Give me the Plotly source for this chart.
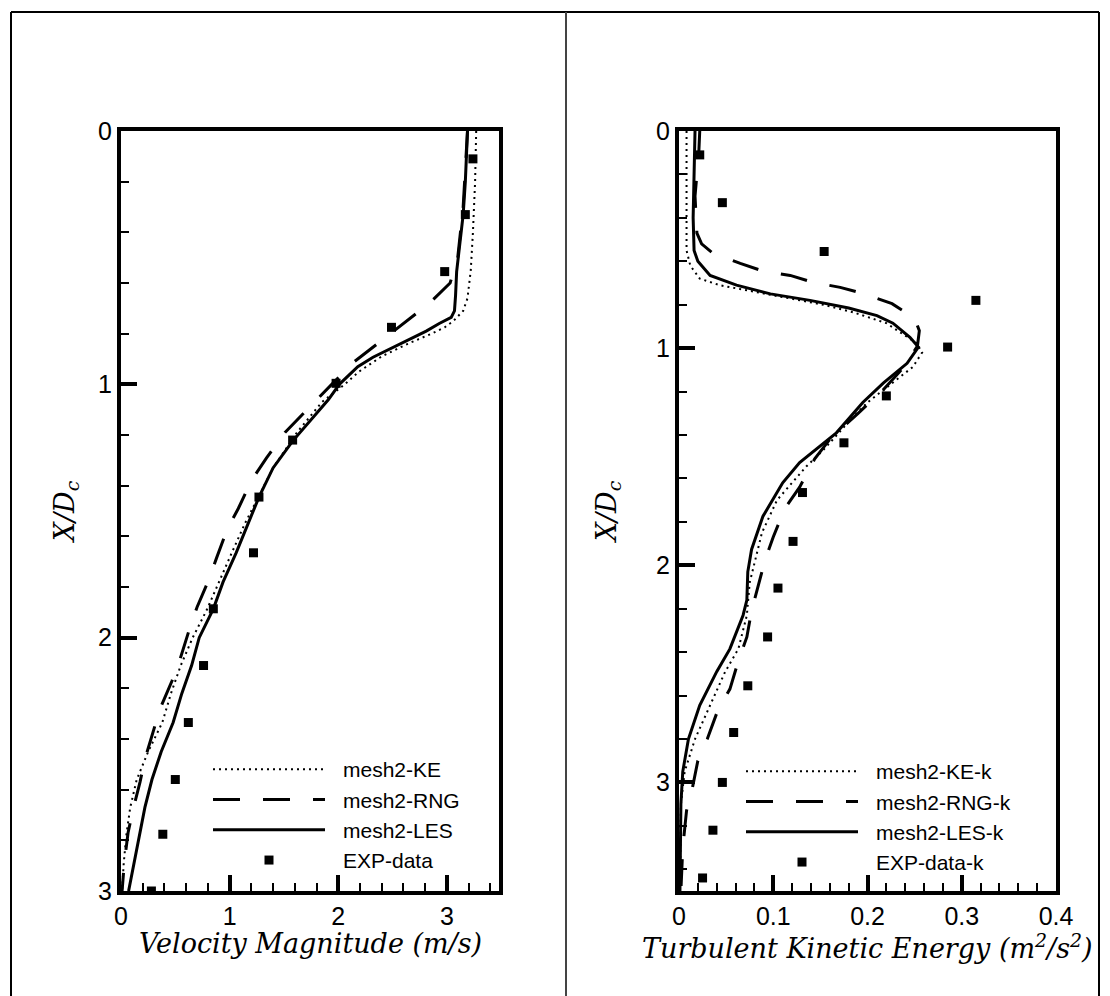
import plotly.graph_objects as go

W, H = 1110, 996

# ---------------- Left panel: velocity magnitude ----------------
les_v_y = [0, 0.1, 0.2, 0.33, 0.45, 0.555, 0.65, 0.71, 0.736, 0.76, 0.79, 0.815, 0.84, 0.866, 0.893,
           0.93, 0.97, 1.0, 1.06, 1.12, 1.224, 1.33, 1.445, 1.55, 1.665, 1.78, 1.886, 2.0, 2.11, 2.22,
           2.335, 2.45, 2.56, 2.67, 2.776, 2.89, 3.0]
les_v = [3.19, 3.18, 3.17, 3.15, 3.12, 3.09, 3.08, 3.07, 3.04, 2.93, 2.81, 2.69, 2.57, 2.45, 2.32,
         2.18, 2.08, 2.01, 1.91, 1.79, 1.58, 1.40, 1.27, 1.17, 1.06, 0.94, 0.85, 0.72, 0.65, 0.56,
         0.48, 0.37, 0.285, 0.22, 0.17, 0.12, 0.07]

ke_v_y = [0, 0.2, 0.4, 0.55, 0.66, 0.71, 0.75, 0.775, 0.8, 0.84, 0.89, 0.95, 1.0, 1.07, 1.19, 1.33,
          1.457, 1.55, 1.665, 1.78, 1.89, 2.0, 2.11, 2.22, 2.335, 2.45, 2.56, 2.67, 2.776, 2.89, 3.0]
ke_v = [3.27, 3.26, 3.24, 3.22, 3.19, 3.15, 3.06, 2.98, 2.86, 2.64, 2.40, 2.19, 2.06, 1.85, 1.62, 1.40,
        1.25, 1.14, 1.02, 0.90, 0.79, 0.66, 0.55, 0.46, 0.38, 0.25, 0.145, 0.085, 0.05, 0.025, 0.01]

rng_v_y = [0, 0.3, 0.5, 0.6, 0.68, 0.76, 0.83, 0.91, 1.0, 1.09, 1.19, 1.29, 1.38, 1.49, 1.57, 1.685,
           1.78, 1.88, 1.98, 2.09, 2.17, 2.28, 2.37, 2.48, 2.57, 2.68, 2.77, 2.89, 3.0]
rng_v = [3.19, 3.15, 3.10, 3.03, 2.84, 2.60, 2.38, 2.15, 1.94, 1.74, 1.51, 1.34, 1.20, 1.08, 0.98, 0.88,
         0.80, 0.70, 0.62, 0.54, 0.47, 0.36, 0.30, 0.22, 0.175, 0.11, 0.065, 0.03, 0.01]

exp_v_y = [0.11, 0.33, 0.555, 0.775, 0.996, 1.22, 1.445, 1.665, 1.886, 2.11, 2.335, 2.56, 2.776, 3.0]
exp_v = [3.24, 3.17, 2.98, 2.49, 1.98, 1.58, 1.27, 1.22, 0.85, 0.76, 0.62, 0.50, 0.385, 0.28]

# ---------------- Right panel: turbulent kinetic energy ----------------
les_k_y = [0, 0.2, 0.4, 0.55, 0.6, 0.665, 0.71, 0.75, 0.78, 0.815, 0.85, 0.885, 0.95, 0.995, 1.07,
           1.16, 1.25, 1.39, 1.527, 1.62, 1.775, 1.927, 2.03, 2.16, 2.23, 2.385, 2.49, 2.645, 2.8,
           2.95, 3.1, 3.5]
les_k = [0.017, 0.016, 0.015, 0.016, 0.02, 0.033, 0.061, 0.097, 0.139, 0.18, 0.21, 0.227, 0.245, 0.254,
         0.242, 0.217, 0.195, 0.167, 0.128, 0.11, 0.089, 0.077, 0.073, 0.072, 0.068, 0.054, 0.04,
         0.022, 0.01, 0.004, 0.002, 0.001]

ke_k_y = [0, 0.3, 0.55, 0.62, 0.68, 0.71, 0.74, 0.77, 0.80, 0.835, 0.885, 0.977, 1.02, 1.087, 1.16,
          1.25, 1.315, 1.47, 1.545, 1.7, 1.85, 2.08, 2.23, 2.385, 2.49, 2.645, 2.8, 2.95, 3.1, 3.5]
ke_k = [0.008, 0.008, 0.008, 0.012, 0.022, 0.043, 0.079, 0.114, 0.153, 0.185, 0.22, 0.252, 0.258,
        0.248, 0.227, 0.2, 0.185, 0.153, 0.135, 0.104, 0.088, 0.075, 0.072, 0.063, 0.049, 0.033,
        0.017, 0.006, 0.002, 0.001]

rng_k_y = [0, 0.1, 0.3, 0.47, 0.52, 0.56, 0.61, 0.645, 0.665, 0.697, 0.72, 0.748, 0.795, 0.862, 0.92,
           0.99, 1.08, 1.2, 1.3, 1.42, 1.51, 1.64, 1.74, 1.87, 1.98, 2.1, 2.21, 2.33, 2.44, 2.57, 2.67,
           2.8, 2.9, 3.03, 3.13, 3.3, 3.5]
rng_k = [0.022, 0.021, 0.017, 0.019, 0.024, 0.035, 0.065, 0.089, 0.118, 0.142, 0.171, 0.195, 0.226,
         0.250, 0.255, 0.253, 0.24, 0.215, 0.19, 0.16, 0.144, 0.128, 0.112, 0.1, 0.091, 0.084, 0.077,
         0.072, 0.063, 0.054, 0.041, 0.03, 0.02, 0.014, 0.008, 0.004, 0.002]

exp_k_y = [0.11, 0.33, 0.555, 0.78, 0.995, 1.22, 1.436, 1.665, 1.89, 2.105, 2.33, 2.555, 2.77, 3.0,
           3.22, 3.44]
exp_k = [0.022, 0.046, 0.154, 0.315, 0.285, 0.22, 0.175, 0.131, 0.121, 0.105, 0.094, 0.073, 0.058,
         0.046, 0.036, 0.025]

names_left = ["mesh2-KE", "mesh2-RNG", "mesh2-LES", "EXP-data"]
names_right = ["mesh2-KE-k", "mesh2-RNG-k", "mesh2-LES-k", "EXP-data-k"]
title_vel = "<i>Velocity Magnitude (m/s)</i>"
title_tke = "<i>Turbulent Kinetic Energy (m<sup>2</sup>/s<sup>2</sup>)</i>"
title_y = "<i>X/D<sub>c</sub></i>"

DOT = dict(color="black", width=2, dash="2px,4px")
DASH = dict(color="black", width=3, dash="27px,23px")
SOLID = dict(color="black", width=3)
MARK = dict(symbol="square", size=9, color="black")

fig = go.Figure()


def add_panel(xa, ya, leg, names, series, exp):
    styles = [DOT, DASH, SOLID]
    for i, (xs, ys) in enumerate(series):
        fig.add_trace(go.Scatter(x=xs, y=ys, mode="lines", line=styles[i], name=names[i],
                                 xaxis=xa, yaxis=ya, legend=leg))
    fig.add_trace(go.Scatter(x=exp[0], y=exp[1], mode="markers", marker=MARK, name=names[3],
                             xaxis=xa, yaxis=ya, legend=leg))


add_panel("x", "y", "legend", names_left,
          [(ke_v, ke_v_y), (rng_v, rng_v_y), (les_v, les_v_y)], (exp_v, exp_v_y))
add_panel("x2", "y2", "legend2", names_right,
          [(ke_k, ke_k_y), (rng_k, rng_k_y), (les_k, les_k_y)], (exp_k, exp_k_y))

TICKF = dict(family="Liberation Sans, Arial, sans-serif", size=25, color="black")
TITLEF = dict(family="DejaVu Serif, Liberation Serif, serif", size=27, color="black")
LEGF = dict(family="Liberation Sans, Arial, sans-serif", size=21, color="black")


def px_x(p):
    return p / W


def px_y(p):
    return (H - p) / H


common_axis = dict(showline=True, linecolor="black", linewidth=4, mirror=True, showgrid=False,
                   zeroline=False, ticks="inside", tickwidth=4, ticklen=16, tickcolor="black",
                   tickfont=TICKF, automargin=False)

yd = [px_y(891), px_y(131)]

fig.update_layout(
    width=W, height=H, margin=dict(l=0, r=0, t=0, b=0, pad=0, autoexpand=False),
    paper_bgcolor="white", plot_bgcolor="white", showlegend=True,
    xaxis=dict(common_axis, domain=[px_x(121), px_x(499)], range=[0, 3.48], anchor="y",
               tickvals=[0, 1, 2, 3], ticktext=["0", "1", "2", "3"],
               minor=dict(ticks="inside", dtick=0.2, ticklen=8, tickwidth=2, tickcolor="black")),
    yaxis=dict(common_axis, domain=yd, range=[3, 0], anchor="x",
               tickvals=[0, 1, 2, 3], ticktext=["0", "1", "2", "3"],
               minor=dict(ticks="inside", dtick=0.2, ticklen=8, tickwidth=2, tickcolor="black"),
               title=dict(text=title_y, font=TITLEF, standoff=17)),
    xaxis2=dict(common_axis, domain=[px_x(679), px_x(1056)], range=[0, 0.4], anchor="y2",
                tickvals=[0, 0.1, 0.2, 0.3, 0.4], ticktext=["0", "0.1", "0.2", "0.3", "0.4"],
                minor=dict(ticks="inside", dtick=0.02, ticklen=8, tickwidth=2, tickcolor="black")),
    yaxis2=dict(common_axis, domain=yd, range=[3.5, 0], anchor="x2",
                tickvals=[0, 1, 2, 3], ticktext=["0", "1", "2", "3"],
                minor=dict(ticks="inside", dtick=0.2, ticklen=8, tickwidth=2, tickcolor="black"),
                title=dict(text=title_y, font=TITLEF, standoff=33)),
    legend=dict(x=px_x(208), y=px_y(749), xanchor="left", yanchor="top", bgcolor="rgba(0,0,0,0)",
                font=LEGF, itemwidth=125, tracegroupgap=0, traceorder="normal"),
    legend2=dict(x=px_x(741), y=px_y(751), xanchor="left", yanchor="top", bgcolor="rgba(0,0,0,0)",
                 font=LEGF, itemwidth=125, tracegroupgap=0, traceorder="normal"),
    annotations=[
        dict(text=title_vel, xref="x domain", yref="paper", x=0.5, y=px_y(943),
             xanchor="center", yanchor="middle", showarrow=False, font=TITLEF),
        dict(text=title_tke, xref="x2 domain", yref="paper", x=0.5, y=px_y(946),
             xanchor="center", yanchor="middle", showarrow=False, font=TITLEF),
    ],
    shapes=[
        dict(type="line", xref="paper", yref="paper", x0=px_x(11), x1=px_x(11), y0=0, y1=px_y(12),
             line=dict(color="black", width=2)),
        dict(type="line", xref="paper", yref="paper", x0=px_x(11), x1=px_x(1099), y0=px_y(12),
             y1=px_y(12), line=dict(color="black", width=2)),
        dict(type="line", xref="paper", yref="paper", x0=px_x(1099), x1=px_x(1099), y0=0,
             y1=px_y(12), line=dict(color="black", width=2)),
        dict(type="line", xref="paper", yref="paper", x0=px_x(566), x1=px_x(566), y0=0,
             y1=px_y(12), line=dict(color="#444", width=2)),
    ],
)

post = """
document.documentElement.style.margin = '0';
document.documentElement.style.padding = '0';
document.documentElement.style.overflow = 'hidden';
document.body.style.margin = '0';
document.body.style.padding = '0';
document.body.style.overflow = 'hidden';
var gd = document.getElementById('{plot_id}');
function fixLegend(){
  gd.querySelectorAll('.legendlines path').forEach(function(p){ p.setAttribute('d','M5,0h112'); });
  gd.querySelectorAll('.legendpoints path.scatterpts').forEach(function(p){ p.setAttribute('transform','translate(61,0)'); });
}
fixLegend();
if (gd.on) { gd.on('plotly_afterplot', fixLegend); }
"""

fig.write_html("out.html", post_script=post,
               config={"displayModeBar": False, "responsive": False})
